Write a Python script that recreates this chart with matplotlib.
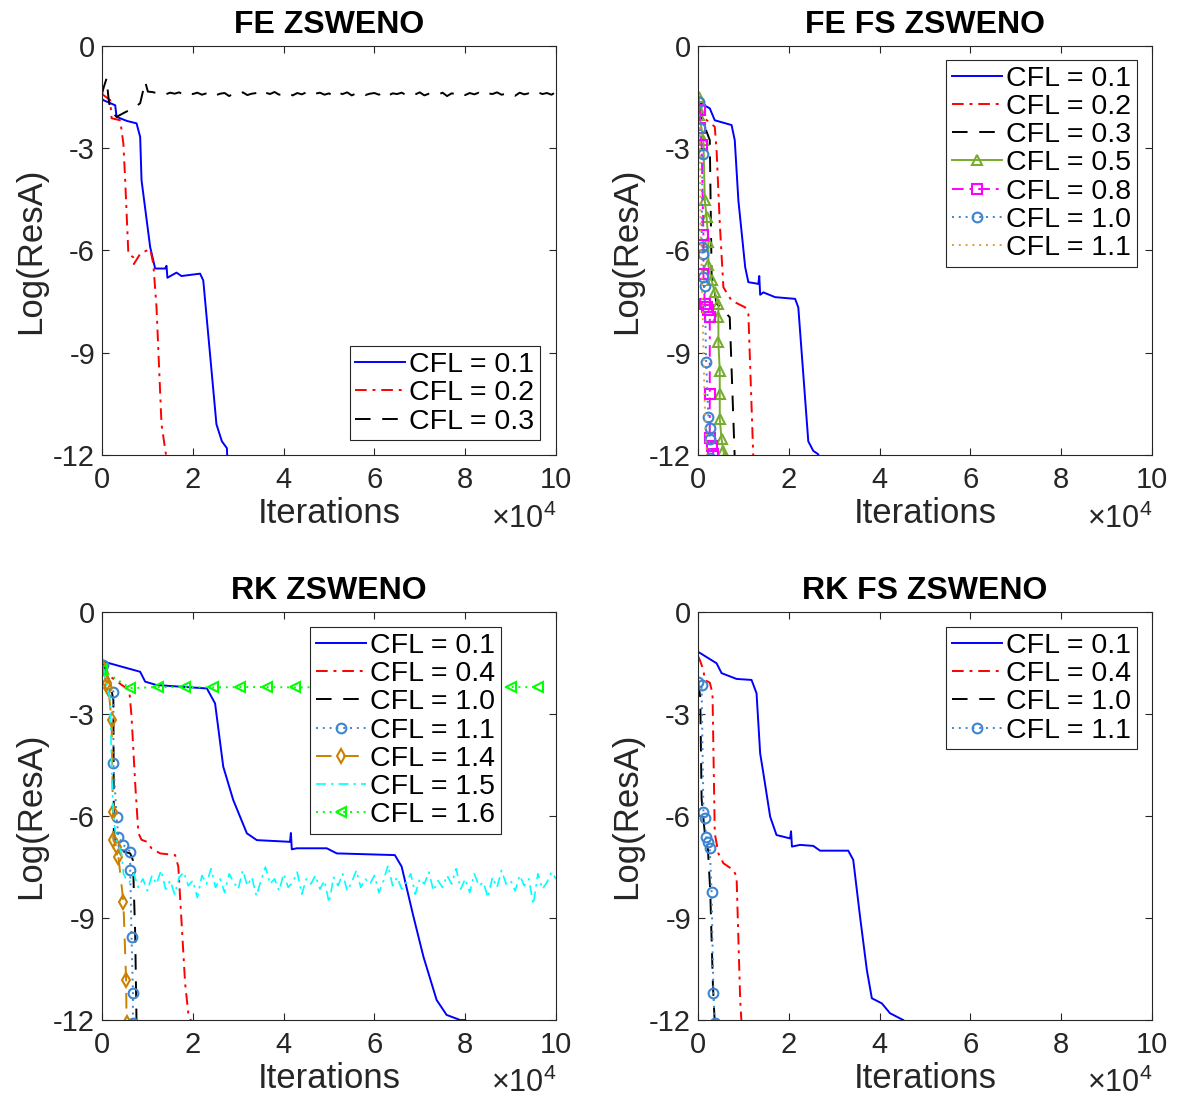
import matplotlib
matplotlib.use("Agg")
import matplotlib.pyplot as plt
import numpy as np

plt.rcParams['font.family'] = ['Liberation Sans', 'DejaVu Sans']
plt.rcParams['mathtext.fontset'] = 'custom'
plt.rcParams['mathtext.rm'] = 'Liberation Sans'
plt.rcParams['axes.unicode_minus'] = False

# x values are in units of 1e4 iterations, y is log10 of the residual

# ---- FE ZSWENO ----
fe_b_x = [0.0, 0.03, 0.29, 0.32, 0.55, 0.76, 0.84, 0.87, 1.06, 1.17, 1.39, 1.42, 1.44, 1.64,
          1.75, 2.16, 2.23, 2.52, 2.64, 2.75, 2.76]
fe_b_y = [-1.55, -1.59, -1.74, -2.08, -2.2, -2.27, -2.67, -3.94, -5.9, -6.53, -6.53, -6.45, -6.8,
          -6.65, -6.75, -6.68, -6.88, -11.1, -11.6, -11.8, -12.1]
fe_r_x = [0.0, 0.03, 0.18, 0.21, 0.40, 0.47, 0.51, 0.58, 0.69, 0.70, 0.84, 1.06, 1.13, 1.2, 1.31, 1.42]
fe_r_y = [-1.4, -1.44, -1.59, -2.12, -2.18, -2.86, -3.94, -6.1, -6.2, -6.4, -6.1, -5.95, -6.4,
          -7.67, -11.1, -12.1]
fe_k_x = [0.0, 0.04, 0.1, 0.14, 0.18, 0.32, 0.5, 0.7, 0.84, 0.95, 1.01] + list(np.arange(1.1, 10.05, 0.1))
fe_k_y = [-1.4, -1.2, -0.95, -1.5, -1.88, -2.08, -1.95, -1.82, -1.68, -1.05, -1.34,
          -1.35, -1.38, -1.36, -1.42, -1.37, -1.40, -1.36, -1.44, -1.38, -1.41,
          -1.37, -1.43, -1.39, -1.36, -1.45, -1.40, -1.38, -1.47, -1.39, -1.42,
          -1.36, -1.44, -1.40, -1.38, -1.46, -1.37, -1.41, -1.35, -1.43, -1.39,
          -1.37, -1.45, -1.38, -1.42, -1.36, -1.44, -1.40, -1.37, -1.43, -1.39,
          -1.48, -1.38, -1.41, -1.36, -1.45, -1.39, -1.37, -1.44, -1.40, -1.38,
          -1.43, -1.36, -1.46, -1.39, -1.41, -1.37, -1.44, -1.38, -1.42, -1.36,
          -1.45, -1.40, -1.38, -1.43, -1.37, -1.47, -1.39, -1.41, -1.36, -1.44,
          -1.38, -1.42, -1.37, -1.45, -1.39, -1.41, -1.36, -1.43, -1.40, -1.38,
          -1.46, -1.37, -1.42, -1.39, -1.44, -1.36, -1.41, -1.38, -1.43, -1.35]

# ---- FE FS ZSWENO ----
fs_b_x = [0.0, 0.26, 0.37, 0.74, 0.81, 0.89, 1.04, 1.11, 1.33, 1.35, 1.37, 1.44, 1.70, 2.14, 2.21,
          2.43, 2.54, 2.65, 2.66]
fs_b_y = [-1.64, -1.83, -2.18, -2.32, -2.76, -4.53, -6.49, -6.93, -6.98, -6.75, -7.3, -7.23, -7.37,
          -7.42, -7.67, -11.6, -11.88, -11.98, -12.1]
fs_r_x = [0.0, 0.15, 0.37, 0.41, 0.48, 0.56, 0.74, 1.04, 1.11, 1.22]
fs_r_y = [-1.7, -2.13, -2.37, -3.06, -5.2, -7.08, -7.47, -7.67, -7.86, -12.1]
fs_k_x = [0.0, 0.1, 0.26, 0.3, 0.41, 0.52, 0.7, 0.81]
fs_k_y = [-1.7, -2.2, -2.76, -6.68, -7.56, -7.7, -7.96, -12.1]
fs_g_x = [0.03, 0.01, 0.03, 0.12, 0.15, 0.19, 0.23, 0.23, 0.30, 0.37, 0.45, 0.45, 0.45, 0.48, 0.48,
          0.48, 0.52, 0.56, 0.59]
fs_g_y = [-1.49, -1.78, -2.03, -2.76, -4.53, -5.02, -5.75, -6.44, -6.88, -7.23, -7.57, -7.96, -8.7,
          -9.53, -10.22, -10.95, -11.54, -11.88, -12.05]
fs_m_x = [0.04, 0.04, 0.08, 0.12, 0.12, 0.15, 0.19, 0.23, 0.26, 0.26, 0.26, 0.30, 0.34]
fs_m_y = [-1.88, -2.42, -2.91, -5.56, -6.69, -7.57, -7.67, -7.76, -7.96, -10.22, -11.49, -11.74, -11.97]
fs_c_x = [0.03, 0.04, 0.10, 0.08, 0.12, 0.12, 0.15, 0.18, 0.23, 0.26, 0.26, 0.27]
fs_c_y = [-1.64, -2.42, -3.16, -5.9, -6.1, -6.78, -7.03, -9.28, -10.9, -11.2, -11.54, -12.1]
fs_o_x = [0.0, 0.04, 0.06, 0.1, 0.12, 0.16, 0.2]
fs_o_y = [-1.6, -2.5, -5.5, -7.5, -9.0, -11.0, -12.1]

# ---- RK ZSWENO ----
rk_b_x = [0.0, 0.03, 0.84, 0.95, 1.2, 2.31, 2.49, 2.67, 2.89, 3.19, 3.41, 4.14, 4.16, 4.18, 4.29,
          4.95, 5.17, 6.45, 6.6, 6.86, 7.08, 7.37, 7.59, 7.89, 8.0]
rk_b_y = [-1.4, -1.46, -1.76, -2.05, -2.15, -2.25, -2.69, -4.55, -5.53, -6.51, -6.71, -6.76, -6.5,
          -6.98, -6.95, -6.95, -7.1, -7.15, -7.49, -8.96, -10.14, -11.41, -11.85, -12.0, -12.0]
rk_r_x = [0.0, 0.18, 0.54, 0.6, 0.65, 0.73, 0.8, 0.87, 0.99, 1.09, 1.28, 1.61, 1.68, 1.83, 1.9, 1.98]
rk_r_y = [-1.5, -1.9, -2.25, -2.3, -3.08, -5.04, -6.5, -6.7, -6.76, -6.95, -7.1, -7.15, -7.49,
          -10.92, -11.8, -12.1]
rk_k_x = [0.03, 0.18, 0.25, 0.26, 0.36, 0.62, 0.68, 0.73, 0.76]
rk_k_y = [-1.6, -2.09, -2.6, -6.51, -7.0, -7.1, -7.3, -9.45, -12.1]
rk_c_x = [0.03, 0.25, 0.25, 0.32, 0.36, 0.47, 0.62, 0.62, 0.65, 0.68, 0.68]
rk_c_y = [-1.56, -2.34, -4.45, -6.02, -6.61, -6.85, -7.05, -7.59, -9.55, -11.21, -12.1]
rk_o_x = [0.03, 0.10, 0.14, 0.21, 0.24, 0.25, 0.32, 0.36, 0.47, 0.53, 0.54]
rk_o_y = [-1.66, -2.1, -2.25, -3.18, -5.87, -6.71, -6.9, -7.2, -8.52, -10.82, -12.1]
rk_cy_x = [0.03, 0.18, 0.21, 0.25, 0.32, 0.43, 0.47, 0.54] + list(np.arange(0.6, 10.05, 0.1))
rk_cy_y = [-1.66, -2.59, -4.55, -6.02, -6.71, -7.1, -7.69, -7.88,
           -7.95, -7.70, -8.10, -7.85, -8.20, -7.75, -8.00, -7.60, -8.15, -7.90,
           -8.30, -7.80, -7.65, -8.05, -7.90, -8.40, -7.75, -8.00, -7.55, -8.10,
           -7.85, -8.25, -7.70, -7.95, -8.15, -7.60, -8.05, -7.80, -8.35, -7.90,
           -7.50, -8.00, -7.85, -8.20, -7.70, -8.10, -7.95, -7.65, -8.30, -7.85,
           -8.00, -7.75, -8.15, -7.90, -8.55, -7.80, -8.05, -7.70, -8.20, -7.95,
           -7.60, -8.10, -7.85, -8.00, -7.75, -8.25, -7.90, -7.45, -8.05, -7.80,
           -8.15, -7.95, -7.70, -8.30, -7.85, -8.00, -7.65, -8.20, -7.90, -8.10,
           -7.75, -8.00, -7.55, -8.15, -7.85, -8.25, -7.70, -8.05, -7.95, -8.40,
           -7.80, -8.10, -7.60, -8.00, -7.90, -8.20, -7.75, -8.05, -7.85, -8.60,
           -7.70, -8.15, -7.95, -7.65, -7.85]
rk_g_x = [0.0, 0.62, 1.24, 1.83, 2.45, 3.04, 3.63, 4.25, 4.84, 5.44, 6.03, 6.63, 7.22, 7.82, 8.41,
          9.0, 9.6]
rk_g_y = [-1.7, -2.24, -2.21, -2.21, -2.22, -2.21, -2.21, -2.22, -2.21, -2.21, -2.22, -2.21,
          -2.21, -2.22, -2.21, -2.21, -2.21]

# ---- RK FS ZSWENO ----
rkfs_b_x = [0.0, 0.41, 0.52, 0.85, 1.18, 1.29, 1.37, 1.44, 1.59, 1.73, 2.03, 2.05, 2.07, 2.25, 2.54,
            2.69, 3.31, 3.42, 3.57, 3.72, 3.83, 4.05, 4.23, 4.52]
rkfs_b_y = [-1.17, -1.51, -1.8, -1.97, -2.0, -2.39, -4.16, -4.74, -6.02, -6.56, -6.66, -6.45, -6.9,
            -6.85, -6.88, -7.02, -7.02, -7.29, -8.96, -10.53, -11.36, -11.51, -11.8, -12.0]
rkfs_r_x = [0.0, 0.04, 0.12, 0.15, 0.26, 0.32, 0.37, 0.45, 0.56, 0.78, 0.85, 0.93, 0.96]
rkfs_r_y = [-1.3, -1.41, -1.71, -2.0, -2.08, -2.39, -6.51, -7.1, -7.39, -7.59, -7.78, -11.41, -12.1]
rkfs_k_x = [0.0, 0.05, 0.08, 0.15, 0.22, 0.27, 0.33, 0.37]
rkfs_k_y = [-2.05, -2.5, -5.5, -6.5, -7.0, -8.2, -11.0, -12.1]
rkfs_c_x = [0.0, 0.08, 0.12, 0.15, 0.18, 0.23, 0.26, 0.30, 0.34, 0.37]
rkfs_c_y = [-2.05, -2.15, -5.87, -6.07, -6.61, -6.76, -6.95, -8.23, -11.21, -12.1]

fig = plt.figure(figsize=(11.81, 11.0), dpi=100)
axes_pos = [[0.0864, 0.5864, 0.3844, 0.3718], [0.591, 0.5864, 0.3844, 0.3718],
            [0.0864, 0.0727, 0.3844, 0.371], [0.591, 0.0727, 0.3844, 0.371]]
titles = ['FE ZSWENO', 'FE FS ZSWENO', 'RK ZSWENO', 'RK FS ZSWENO']

lw = 1.4
mk = dict(markersize=7, markerfacecolor='none', markeredgewidth=1.5)
dash = (0, (8, 6))
dashdot = (0, (6, 3, 1.5, 3))
dot = (0, (1, 2.5))

axs = []
for pos, t in zip(axes_pos, titles):
    ax = fig.add_axes(pos)
    ax.set_xlim(0, 10)
    ax.set_ylim(-12, 0)
    ax.set_xticks([0, 2, 4, 6, 8, 10])
    ax.set_yticks([0, -3, -6, -9, -12])
    ax.tick_params(direction='in', top=True, right=True, length=5, width=0.8,
                   labelsize=21, colors='#262626', pad=5)
    ax.tick_params(axis='x', pad=8)
    for s in ax.spines.values():
        s.set_linewidth(0.8)
        s.set_color('#262626')
    ax.set_title(t, fontsize=23, fontweight='bold', pad=9)
    ax.set_xlabel('Iterations', fontsize=25, labelpad=2, color='#262626')
    ax.set_ylabel('Log(ResA)', fontsize=25, labelpad=4, color='#262626')
    ax.text(1.0, -0.118, r'$\times\mathregular{10^4}$', transform=ax.transAxes,
            ha='right', va='top', fontsize=22, color='#262626')
    axs.append(ax)

leg_kw = dict(fontsize=20.5, frameon=True, fancybox=False, edgecolor='#262626', framealpha=1,
              borderaxespad=0, borderpad=0.2, labelspacing=0.08, handlelength=1.75,
              handletextpad=0.15)

ax = axs[0]
ax.plot(fe_b_x, fe_b_y, color='#0000ff', lw=lw, label='CFL = 0.1')
ax.plot(fe_r_x, fe_r_y, color='#ff0000', lw=lw, linestyle=dashdot, label='CFL = 0.2')
ax.plot(fe_k_x, fe_k_y, color='black', lw=lw, linestyle=dash, label='CFL = 0.3')
lg = ax.legend(loc='lower right', bbox_to_anchor=(0.965, 0.036), **leg_kw)
lg.get_frame().set_linewidth(0.8)

ax = axs[1]
ax.plot(fs_b_x, fs_b_y, color='#0000ff', lw=lw, label='CFL = 0.1')
ax.plot(fs_r_x, fs_r_y, color='#ff0000', lw=lw, linestyle=dashdot, label='CFL = 0.2')
ax.plot(fs_k_x, fs_k_y, color='black', lw=lw, linestyle=dash, label='CFL = 0.3')
ax.plot(fs_g_x, fs_g_y, color='#77ac30', lw=lw, marker='^', label='CFL = 0.5', **mk)
ax.plot(fs_m_x, fs_m_y, color='#ff00ff', lw=lw, linestyle=dashdot, marker='s', label='CFL = 0.8', **mk)
ax.plot(fs_c_x, fs_c_y, color='#3d85d0', lw=lw, linestyle=dot, marker='o', label='CFL = 1.0', **mk)
ax.plot(fs_o_x, fs_o_y, color='#d9a040', lw=lw, linestyle=dot, label='CFL = 1.1')
lg = ax.legend(loc='upper right', bbox_to_anchor=(0.967, 0.966), **leg_kw)
lg.get_frame().set_linewidth(0.8)

ax = axs[2]
ax.plot(rk_b_x, rk_b_y, color='#0000ff', lw=lw, label='CFL = 0.1')
ax.plot(rk_r_x, rk_r_y, color='#ff0000', lw=lw, linestyle=dashdot, label='CFL = 0.4')
ax.plot(rk_k_x, rk_k_y, color='black', lw=lw, linestyle=dash, label='CFL = 1.0')
ax.plot(rk_c_x, rk_c_y, color='#3d85d0', lw=lw, linestyle=dot, marker='o', label='CFL = 1.1', **mk)
ax.plot(rk_o_x, rk_o_y, color='#cc8000', lw=lw, linestyle=dash, marker='d', label='CFL = 1.4', **mk)
ax.plot(rk_cy_x, rk_cy_y, color='#00ffff', lw=1.2, linestyle=dashdot, label='CFL = 1.5')
ax.plot(rk_g_x, rk_g_y, color='#00ff00', lw=lw, linestyle=dot, marker='<', label='CFL = 1.6', **mk)
lg = ax.legend(loc='upper right', bbox_to_anchor=(0.879, 0.963), **leg_kw)
lg.get_frame().set_linewidth(0.8)

ax = axs[3]
ax.plot(rkfs_b_x, rkfs_b_y, color='#0000ff', lw=lw, label='CFL = 0.1')
ax.plot(rkfs_r_x, rkfs_r_y, color='#ff0000', lw=lw, linestyle=dashdot, label='CFL = 0.4')
ax.plot(rkfs_k_x, rkfs_k_y, color='black', lw=lw, linestyle=dash, label='CFL = 1.0')
ax.plot(rkfs_c_x, rkfs_c_y, color='#3d85d0', lw=lw, linestyle=dot, marker='o', label='CFL = 1.1', **mk)
lg = ax.legend(loc='upper right', bbox_to_anchor=(0.967, 0.963), **leg_kw)
lg.get_frame().set_linewidth(0.8)

plt.savefig('out.png', dpi=100)
